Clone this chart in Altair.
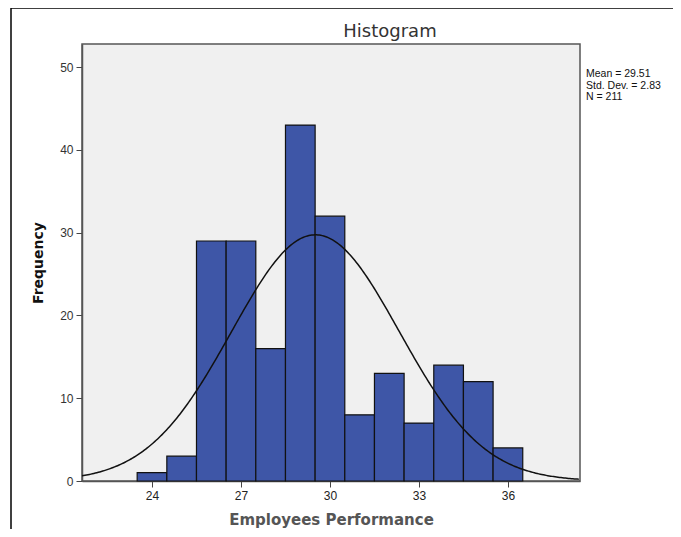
import altair as alt
import pandas as pd

# Histogram data
bin_centers = [24, 25, 26, 27, 28, 29, 30, 31, 32, 33, 34, 35, 36]
frequencies = [1, 3, 29, 29, 16, 43, 32, 8, 13, 7, 14, 12, 4]

# Statistics shown in the legend box
mean_value = 29.51
std_dev = 2.83
n_total = 211
stats_lines = ["Mean = 29.51", "Std. Dev. = 2.83", "N = 211"]
chart_title = "Histogram"

x_domain = [21.64, 38.43]
y_domain = [0, 52.8]
x_ticks = [24, 27, 30, 33, 36]
y_ticks = [0, 10, 20, 30, 40, 50]

W, H = 498, 437

bars_df = pd.DataFrame({
    "start": [c - 0.5 for c in bin_centers],
    "end": [c + 0.5 for c in bin_centers],
    "freq": frequencies,
})

x_scale = alt.Scale(domain=x_domain, nice=False, zero=False)
y_scale = alt.Scale(domain=y_domain, nice=False)

bars = alt.Chart(bars_df).mark_bar(
    color="#3e56a7", stroke="#111111", strokeWidth=1.2
).encode(
    x=alt.X("start:Q", scale=x_scale, axis=alt.Axis(
        values=x_ticks, title="Employees Performance", grid=False,
        labelFontSize=12, labelColor="#222222", labelFont="Liberation Sans",
        tickSize=6, tickColor="#444444", domainColor="#555555", domainWidth=1.5,
        titleFontSize=15, titleFontWeight="bold", titleColor="#555555",
        titleFont="DejaVu Sans", titlePadding=11, labelPadding=3)),
    x2="end:Q",
    y=alt.Y("freq:Q", scale=y_scale, axis=alt.Axis(
        values=y_ticks, title="Frequency", grid=False,
        labelFontSize=12, labelColor="#333333", labelFont="Liberation Sans",
        tickSize=6, tickColor="#444444", domainColor="#555555", domainWidth=1.5,
        titleFontSize=14, titleFontWeight="bold", titleColor="#111111",
        titleFont="DejaVu Sans", titlePadding=14, labelPadding=3)),
    y2=alt.datum(0),
)

curve = alt.Chart(alt.sequence(x_domain[0], x_domain[1] + 0.01, 0.05, as_="x")).transform_calculate(
    y=f"{n_total} / ({std_dev} * sqrt(2*PI)) * exp(-0.5 * pow((datum.x - {mean_value}) / {std_dev}, 2))"
).mark_line(color="#111111", strokeWidth=1.5).encode(
    x=alt.X("x:Q", scale=x_scale),
    y=alt.Y("y:Q", scale=y_scale),
)

stats = alt.Chart(pd.DataFrame({"t": ["\n".join(stats_lines)]})).mark_text(
    align="left", baseline="top", fontSize=10.5, font="Liberation Sans",
    color="#111111", lineBreak="\n", lineHeight=11.5
).encode(
    text="t:N",
    x=alt.value(W + 6),
    y=alt.value(25),
)

title_mark = alt.Chart(pd.DataFrame({"t": [chart_title]})).mark_text(
    align="center", baseline="alphabetic", fontSize=18, font="DejaVu Sans",
    color="#333333"
).encode(
    text="t:N",
    x=alt.value(308),
    y=alt.value(-7),
)

frame_df = pd.DataFrame({"k": [0]})
frame_left = alt.Chart(frame_df).mark_rule(color="#000000", strokeWidth=1.5).encode(
    x=alt.value(-71), y=alt.value(-36), y2=alt.value(H + 80)
)
frame_top = alt.Chart(frame_df).mark_rule(color="#000000", strokeWidth=1.5).encode(
    x=alt.value(-71), x2=alt.value(W + 120), y=alt.value(-36)
)

chart = alt.layer(bars, curve, stats, title_mark, frame_left, frame_top).properties(
    width=W, height=H,
    padding={"left": 74, "top": 36, "right": 93, "bottom": 48},
    autosize=alt.AutoSizeParams(type="none"),
    background="#ffffff",
).configure_view(
    fill="#f0f0f0", stroke="#555555", strokeWidth=1.5
)

chart.save("out.html", embed_options={"renderer": "svg", "actions": False})
